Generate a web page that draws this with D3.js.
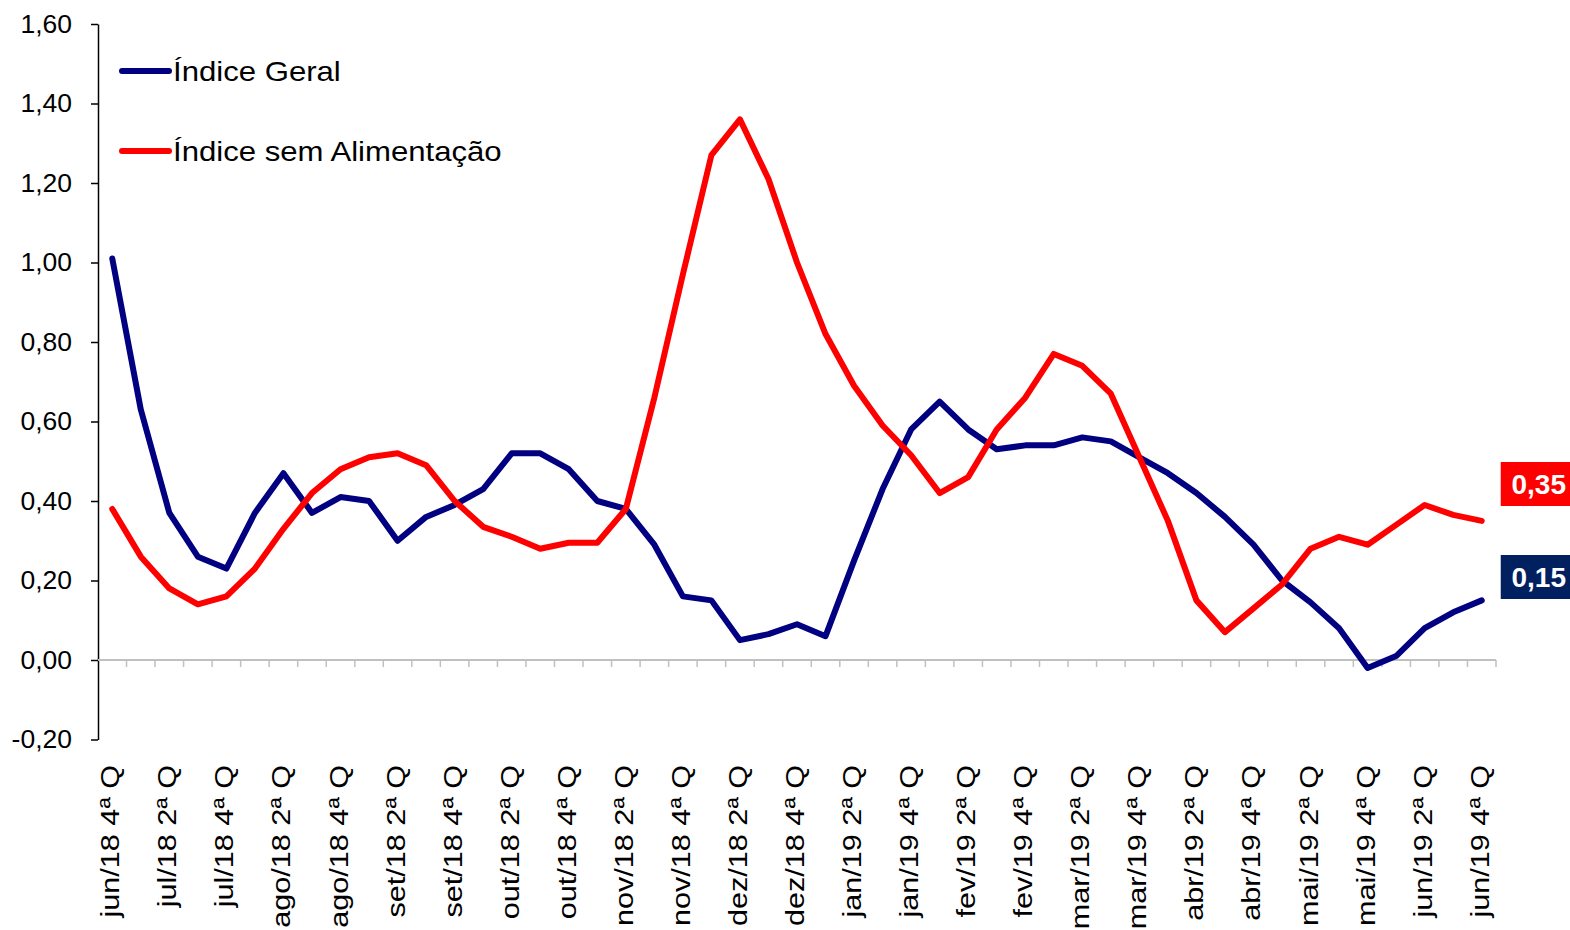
<!DOCTYPE html>
<html>
<head>
<meta charset="utf-8">
<script src="https://cdn.jsdelivr.net/npm/d3@7"></script>
<style>
  html, body { margin: 0; padding: 0; background: #fff; }
  svg { display: block; font-family: "Liberation Sans", Arial, sans-serif; }
</style>
</head>
<body>
<svg width="1570" height="930"></svg>
<script>
// categories: quadrissemanas from jun/18 4ª Q to jun/19 4ª Q
const categories = [
  "jun/18 4ª Q",
  "jul/18 1ª Q", "jul/18 2ª Q", "jul/18 3ª Q", "jul/18 4ª Q",
  "ago/18 1ª Q", "ago/18 2ª Q", "ago/18 3ª Q", "ago/18 4ª Q",
  "set/18 1ª Q", "set/18 2ª Q", "set/18 3ª Q", "set/18 4ª Q",
  "out/18 1ª Q", "out/18 2ª Q", "out/18 3ª Q", "out/18 4ª Q",
  "nov/18 1ª Q", "nov/18 2ª Q", "nov/18 3ª Q", "nov/18 4ª Q",
  "dez/18 1ª Q", "dez/18 2ª Q", "dez/18 3ª Q", "dez/18 4ª Q",
  "jan/19 1ª Q", "jan/19 2ª Q", "jan/19 3ª Q", "jan/19 4ª Q",
  "fev/19 1ª Q", "fev/19 2ª Q", "fev/19 3ª Q", "fev/19 4ª Q",
  "mar/19 1ª Q", "mar/19 2ª Q", "mar/19 3ª Q", "mar/19 4ª Q",
  "abr/19 1ª Q", "abr/19 2ª Q", "abr/19 3ª Q", "abr/19 4ª Q",
  "mai/19 1ª Q", "mai/19 2ª Q", "mai/19 3ª Q", "mai/19 4ª Q",
  "jun/19 1ª Q", "jun/19 2ª Q", "jun/19 3ª Q", "jun/19 4ª Q"
];

const indiceGeral = [
  1.01, 0.63, 0.37, 0.26, 0.23, 0.37, 0.47, 0.37, 0.41, 0.40,
  0.30, 0.36, 0.39, 0.43, 0.52, 0.52, 0.48, 0.40, 0.38, 0.29,
  0.16, 0.15, 0.05, 0.065, 0.09, 0.06, 0.25, 0.43, 0.58, 0.65,
  0.58, 0.53, 0.54, 0.54, 0.56, 0.55, 0.51, 0.47, 0.42, 0.36,
  0.29, 0.20, 0.145, 0.08, -0.02, 0.01, 0.08, 0.12, 0.15
];

const semAlimentacao = [
  0.38, 0.26, 0.18, 0.14, 0.16, 0.23, 0.33, 0.42, 0.48, 0.51,
  0.52, 0.49, 0.40, 0.335, 0.31, 0.28, 0.295, 0.295, 0.38, 0.66,
  0.97, 1.27, 1.36, 1.21, 1.00, 0.82, 0.69, 0.59, 0.515, 0.42,
  0.46, 0.58, 0.66, 0.77, 0.74, 0.67, 0.51, 0.35, 0.15, 0.07,
  0.13, 0.19, 0.28, 0.31, 0.29, 0.34, 0.39, 0.365, 0.35
];

const yTicks = [-0.2, 0, 0.2, 0.4, 0.6, 0.8, 1.0, 1.2, 1.4, 1.6];

const series = [
  { name: "Índice Geral", values: indiceGeral, color: "#000080", box: "#002060" },
  { name: "Índice sem Alimentação", values: semAlimentacao, color: "#ff0000", box: "#ff0000" }
];

const svg = d3.select("svg");
const ptBR = d3.formatLocale({ decimal: ",", thousands: ".", grouping: [3], currency: ["R$", ""], minus: "-" });
const fmt = ptBR.format(".2f");

const x = d3.scaleBand().domain(categories).range([98, 1496]).padding(0);
const y = d3.scaleLinear().domain([-0.2, 1.6]).range([739.5, 24]);
const cx = d => x(d) + x.bandwidth() / 2;

// y axis
const yAxis = svg.append("g")
  .attr("transform", "translate(98,0)")
  .call(d3.axisLeft(y).tickValues(yTicks).tickFormat(fmt).tickSize(7).tickSizeOuter(0).tickPadding(19));
yAxis.select(".domain").attr("stroke", "#000").attr("stroke-width", 1.5);
yAxis.selectAll(".tick line").attr("stroke", "#000").attr("stroke-width", 1.5);
yAxis.selectAll(".tick text").attr("font-size", 26.5).attr("fill", "#000")
  .attr("font-family", "'Liberation Sans', Arial, sans-serif");

// x axis at zero, ticks between categories
const xAxis = svg.append("g");
xAxis.append("line")
  .attr("x1", 98).attr("x2", 1496)
  .attr("y1", y(0)).attr("y2", y(0))
  .attr("stroke", "#c0c0c0").attr("stroke-width", 2);
const bounds = categories.map(c => x(c)).concat([x.range()[1]]);
xAxis.selectAll("line.tk")
  .data(bounds.slice(1))
  .enter()
  .append("line")
  .attr("class", "tk")
  .attr("x1", d => d).attr("x2", d => d)
  .attr("y1", y(0)).attr("y2", y(0) + 7)
  .attr("stroke", "#c0c0c0").attr("stroke-width", 1.5);

xAxis.selectAll("text")
  .data(categories.filter((c, i) => i % 2 === 0))
  .enter()
  .append("text")
  .attr("transform", d => `translate(${cx(d) + 7},765) rotate(-90) scale(1.2,1)`)
  .attr("text-anchor", "end")
  .attr("font-size", 25.5)
  .attr("fill", "#000")
  .text(d => d);

// lines
const line = d3.line()
  .x((d, i) => cx(categories[i]))
  .y(d => y(d));

svg.selectAll("path.serie")
  .data(series)
  .enter()
  .append("path")
  .attr("class", "serie")
  .attr("d", d => line(d.values))
  .attr("fill", "none")
  .attr("stroke", d => d.color)
  .attr("stroke-width", 6)
  .attr("stroke-linejoin", "round")
  .attr("stroke-linecap", "round");

// legend
const legend = svg.append("g");
series.forEach((s, i) => {
  const ly = 71 + i * 80;
  legend.append("line")
    .attr("x1", 122).attr("x2", 169)
    .attr("y1", ly).attr("y2", ly)
    .attr("stroke", s.color).attr("stroke-width", 6)
    .attr("stroke-linecap", "round");
  legend.append("text")
    .attr("transform", `translate(173,${ly + 10}) scale(1.1,1)`)
    .attr("font-size", 28.3)
    .attr("fill", "#000")
    .text(s.name);
});

// end value labels
const endCat = categories[categories.length - 1];
const labelBox = [
  { s: series[0], yc: 577 },
  { s: series[1], yc: 484 }
];
labelBox.forEach(b => {
  const v = b.s.values[b.s.values.length - 1];
  const g = svg.append("g");
  g.append("rect")
    .attr("x", cx(endCat) + 19).attr("y", b.yc - 22)
    .attr("width", 72).attr("height", 44)
    .attr("fill", b.s.box);
  g.append("text")
    .attr("x", 1566).attr("y", b.yc + 10)
    .attr("text-anchor", "end")
    .attr("font-size", 28)
    .attr("font-weight", "bold")
    .attr("fill", "#fff")
    .text(fmt(v));
});
</script>
</body>
</html>
